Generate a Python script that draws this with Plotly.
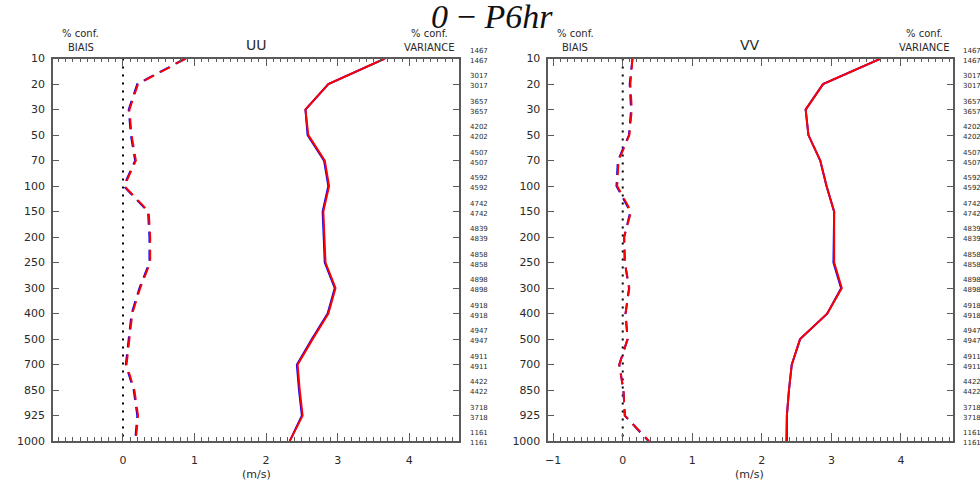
import plotly.graph_objects as go

# Pressure levels (hPa), top to bottom
levels = ["10", "20", "30", "50", "70", "100", "150", "200", "250",
          "300", "400", "500", "700", "850", "925", "1000"]

# Number of observations per level (two rows per level)
counts_a = [1467, 3017, 3657, 4202, 4507, 4592, 4742, 4839, 4858,
            4898, 4918, 4947, 4911, 4422, 3718, 1161]
counts_b = [1467, 3017, 3657, 4202, 4507, 4592, 4742, 4839, 4858,
            4898, 4918, 4947, 4911, 4422, 3718, 1161]

# UU statistics (m/s)
uu_bias_blue = [0.87, 0.20, 0.08, 0.11, 0.17, 0.01, 0.35, 0.37, 0.37,
                0.23, 0.12, 0.08, 0.04, 0.15, 0.20, 0.17]
uu_bias_red = [0.88, 0.21, 0.09, 0.12, 0.18, 0.02, 0.36, 0.38, 0.38,
               0.24, 0.13, 0.085, 0.05, 0.16, 0.21, 0.18]
uu_var_blue = [3.66, 2.87, 2.55, 2.58, 2.81, 2.87, 2.79, 2.81, 2.82,
               2.96, 2.86, 2.64, 2.43, 2.46, 2.50, 2.33]
uu_var_red = [3.66, 2.87, 2.55, 2.59, 2.82, 2.88, 2.80, 2.82, 2.83,
              2.97, 2.87, 2.65, 2.44, 2.47, 2.51, 2.33]

# VV statistics (m/s)
vv_bias_blue = [0.14, 0.10, 0.12, 0.09, -0.07, -0.09, 0.11, 0.02, 0.03,
                0.09, 0.04, 0.07, -0.05, 0.01, 0.03, 0.37]
vv_bias_red = [0.14, 0.11, 0.13, 0.095, -0.06, -0.08, 0.12, 0.02, 0.03,
               0.095, 0.04, 0.07, -0.05, 0.01, 0.03, 0.38]
vv_var_blue = [3.71, 2.88, 2.63, 2.67, 2.84, 2.93, 3.04, 3.03, 3.03,
               3.14, 2.94, 2.55, 2.43, 2.39, 2.36, 2.36]
vv_var_red = [3.71, 2.88, 2.63, 2.67, 2.84, 2.93, 3.04, 3.04, 3.04,
              3.15, 2.94, 2.55, 2.43, 2.39, 2.36, 2.35]

zero_line = [0] * len(levels)

FRAME = "#5a5a5a"
TEXT = "#2a2a2a"
FONT = "DejaVu Sans"

fig = go.Figure()

panels = [
    ("x", "y", uu_bias_blue, uu_bias_red, uu_var_blue, uu_var_red),
    ("x2", "y2", vv_bias_blue, vv_bias_red, vv_var_blue, vv_var_red),
]
for xa, ya, bb, br, vb, vr in panels:
    fig.add_trace(go.Scatter(x=zero_line, y=levels, xaxis=xa, yaxis=ya, mode="lines",
                             line=dict(color="black", width=2, dash="2px,6px")))
    fig.add_trace(go.Scatter(x=bb, y=levels, xaxis=xa, yaxis=ya, mode="lines",
                             line=dict(color="blue", width=2, dash="11px,7px")))
    fig.add_trace(go.Scatter(x=vb, y=levels, xaxis=xa, yaxis=ya, mode="lines",
                             line=dict(color="blue", width=2)))
    fig.add_trace(go.Scatter(x=br, y=levels, xaxis=xa, yaxis=ya, mode="lines",
                             line=dict(color="red", width=2, dash="11px,7px")))
    fig.add_trace(go.Scatter(x=vr, y=levels, xaxis=xa, yaxis=ya, mode="lines",
                             line=dict(color="red", width=2)))

dom_left = [50 / 980, 457 / 980]
dom_right = [547 / 980, 953 / 980]
dom_y = [1 - 447 / 490, 1 - 54 / 490]

xcommon = dict(
    showline=True, linecolor=FRAME, linewidth=1.5, mirror="allticks",
    ticks="inside", ticklen=8, tickwidth=1, tickcolor=FRAME,
    dtick=1, tick0=0, showgrid=False, zeroline=False,
    minor=dict(ticks="inside", ticklen=4, dtick=0.1, tickcolor=FRAME, tickwidth=1,
               showgrid=False),
    tickfont=dict(family=FONT, size=11, color=TEXT), ticklabelstandoff=8,
)
ycommon = dict(
    type="category", categoryorder="array", categoryarray=levels,
    range=[len(levels) - 1, 0],
    showline=True, linecolor=FRAME, linewidth=1.5, mirror="allticks",
    ticks="inside", ticklen=6, tickwidth=1, tickcolor=FRAME,
    showgrid=False, zeroline=False,
    tickfont=dict(family=FONT, size=11, color=TEXT), ticklabelstandoff=4,
)

fig.update_layout(
    width=980, height=490,
    margin=dict(l=0, r=0, t=0, b=0),
    plot_bgcolor="white", paper_bgcolor="white",
    showlegend=False,
    xaxis=dict(domain=dom_left, range=[-0.98, 4.69], anchor="y", **xcommon),
    yaxis=dict(domain=dom_y, anchor="x", **ycommon),
    xaxis2=dict(domain=dom_right, range=[-1.07, 4.75], anchor="y2", **xcommon),
    yaxis2=dict(domain=dom_y, anchor="x2", **ycommon),
)

annotations = []


def txt(x, y, text, size=10, xanchor="center", family=FONT, color=TEXT):
    annotations.append(dict(x=x / 980, y=1 - y / 490, xref="paper", yref="paper",
                            text=text, showarrow=False, xanchor=xanchor, yanchor="middle",
                            font=dict(family=family, size=size, color=color)))


# Title
txt(491, 11, "<i>0\u2009\u2212\u2009P6hr</i>", size=34,
    family="Liberation Serif", color="#111111")

# Panel headers and axis titles
for cl, cm, cr, name in [(78, 254, 428, "UU"), (574, 749, 924, "VV")]:
    txt(cl, 28, "% conf.", size=10)
    txt(cl, 43, "BIAIS", size=10)
    txt(cm, 40, name, size=14)
    txt(cr, 28, "% conf.", size=10)
    txt(cr, 43, "VARIANCE", size=10)
    txt(cm, 481, "(m/s)", size=11)

# Observation counts to the right of each panel (y in category index units)
for ya, xpos in [("y", 466), ("y2", 961)]:
    for idx, (ca, cb) in enumerate(zip(counts_a, counts_b)):
        for val, shift in [(ca, 8), (cb, -2)]:
            annotations.append(dict(x=xpos / 980, y=idx, xref="paper", yref=ya,
                                    text=str(val), showarrow=False, xanchor="left",
                                    yanchor="middle", yshift=shift,
                                    font=dict(family=FONT, size=7, color=TEXT)))

fig.update_layout(annotations=annotations)

fig.write_html("out.html")
